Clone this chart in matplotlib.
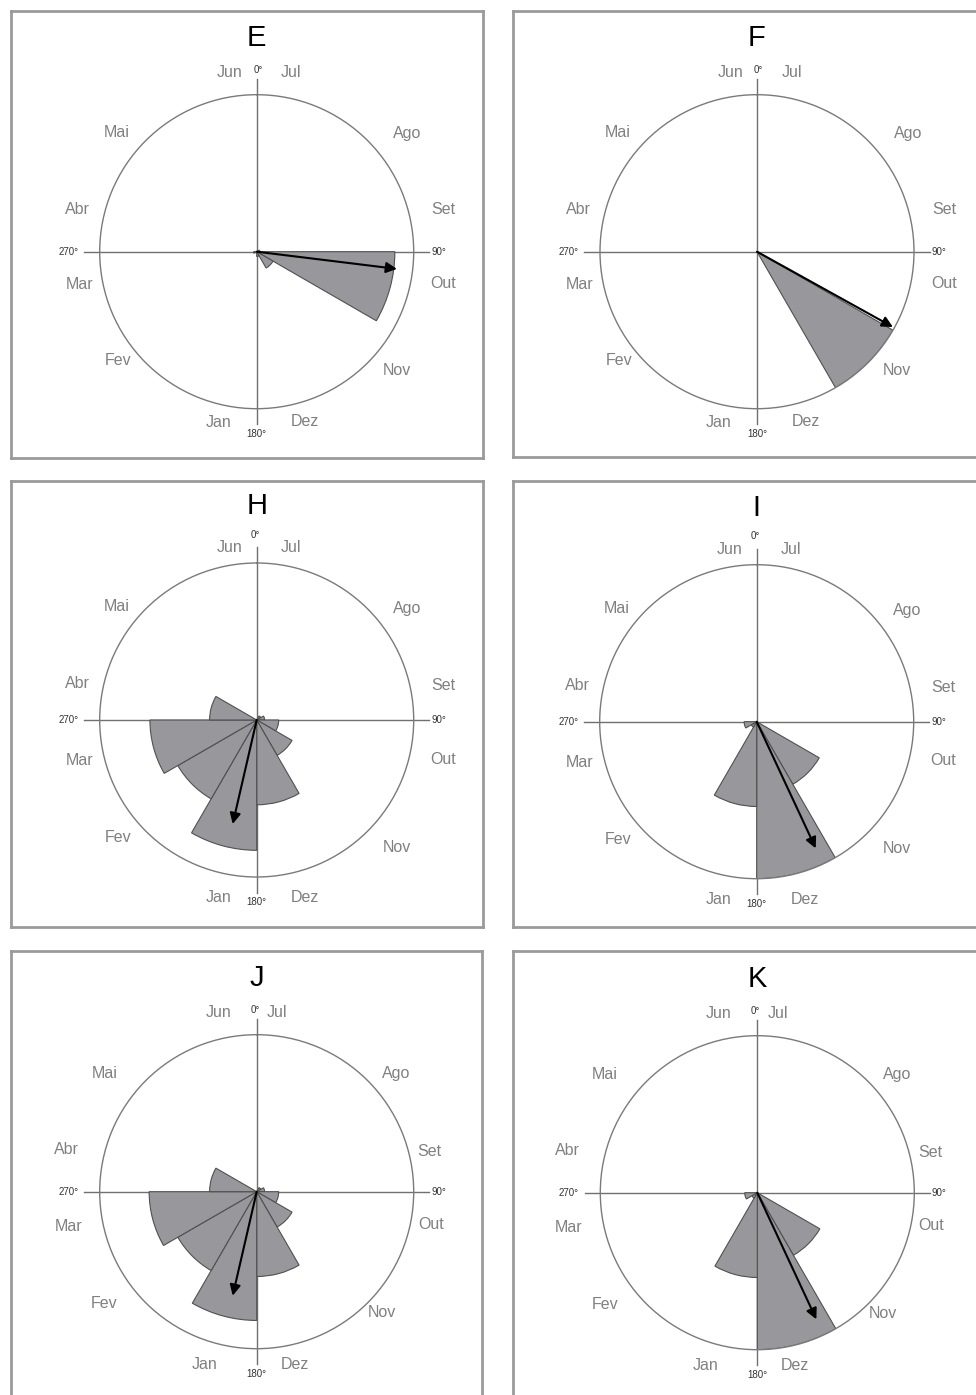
import numpy as np
import matplotlib.pyplot as plt

plt.rcParams['font.family'] = ['Liberation Sans', 'DejaVu Sans']

# Month bins, clockwise from 0° (Jul) in 30° steps
months = ['Jul', 'Ago', 'Set', 'Out', 'Nov', 'Dez', 'Jan', 'Fev', 'Mar', 'Abr', 'Mai', 'Jun']

# relative frequency per month (fraction of the circle radius)
freq_E = [0, 0, 0.02, 0.88, 0.12, 0.03, 0, 0, 0.02, 0, 0, 0]
freq_F = [0, 0, 0, 0, 1.0, 0, 0, 0, 0, 0, 0, 0]
freq_H = [0, 0.03, 0.05, 0.14, 0.26, 0.54, 0.83, 0.58, 0.68, 0.30, 0, 0]
freq_I = [0, 0, 0, 0, 0.46, 1.0, 0.54, 0.04, 0.08, 0, 0, 0]
freq_J = [0, 0.03, 0.05, 0.14, 0.26, 0.54, 0.82, 0.58, 0.685, 0.30, 0, 0]
freq_K = [0, 0, 0, 0, 0.46, 1.0, 0.54, 0.04, 0.08, 0, 0, 0]

# mean vector: direction (degrees clockwise from 0°) and length
mean_E = (97, 0.90)
mean_F = (119, 0.99)
mean_H = (193, 0.68)
mean_I = (155, 0.89)
mean_J = (193, 0.68)
mean_K = (155, 0.89)

degree_labels = ['0°', '90°', '180°', '270°']

W, H = 976, 1395
fig = plt.figure(figsize=(W / 100, H / 100), dpi=100, facecolor='white')

# label offsets (in circle radii) for the three rows of panels
lab_a = {'Jun': (-0.17, 1.14), 'Jul': (0.22, 1.14), 'Ago': (0.96, 0.755), 'Set': (1.19, 0.27),
         'Out': (1.19, -0.20), 'Nov': (0.89, -0.755), 'Dez': (0.31, -1.08), 'Jan': (-0.245, -1.085),
         'Fev': (-0.88, -0.69), 'Mar': (-1.13, -0.21), 'Abr': (-1.14, 0.27), 'Mai': (-0.89, 0.76),
         '0°': (0.01, 1.16), '90°': (1.16, 0), '180°': (0, -1.16), '270°': (-1.20, 0)}
lab_b = {'Jun': (-0.17, 1.10), 'Jul': (0.22, 1.10), 'Ago': (0.96, 0.71), 'Set': (1.19, 0.22),
         'Out': (1.19, -0.25), 'Nov': (0.89, -0.81), 'Dez': (0.31, -1.13), 'Jan': (-0.245, -1.13),
         'Fev': (-0.88, -0.75), 'Mar': (-1.13, -0.26), 'Abr': (-1.14, 0.23), 'Mai': (-0.89, 0.72),
         '0°': (-0.01, 1.18), '90°': (1.16, 0), '180°': (0, -1.16), '270°': (-1.20, 0)}
lab_c = {'Jun': (-0.245, 1.14), 'Jul': (0.13, 1.14), 'Ago': (0.89, 0.75), 'Set': (1.10, 0.255),
         'Out': (1.11, -0.21), 'Nov': (0.80, -0.77), 'Dez': (0.24, -1.10), 'Jan': (-0.33, -1.10),
         'Fev': (-0.97, -0.71), 'Mar': (-1.20, -0.22), 'Abr': (-1.21, 0.27), 'Mai': (-0.97, 0.755),
         '0°': (-0.01, 1.155), '90°': (1.16, 0), '180°': (0, -1.16), '270°': (-1.20, 0)}

# letter, data, mean, box (l, t, r, b px), centre (px), labels
panels = [
    ('E', freq_E, mean_E, (11, 11, 483, 458), (256.7, 251.7), lab_a),
    ('F', freq_F, mean_F, (513, 11, 995, 457), (757.0, 251.7), lab_a),
    ('H', freq_H, mean_H, (11, 481, 483, 927), (256.7, 720.0), lab_b),
    ('I', freq_I, mean_I, (513, 481, 995, 927), (756.7, 721.7), lab_b),
    ('J', freq_J, mean_J, (11, 951, 482, 1410), (256.7, 1191.7), lab_c),
    ('K', freq_K, mean_K, (513, 951, 995, 1410), (757.3, 1192.7), lab_c),
]

R = 157  # circle radius in pixels
theta = np.deg2rad(15 + 30 * np.arange(12))
width = np.deg2rad(30)

for letter, freq, mean, box, centre, labs in panels:
    l, t, r, b = box
    bax = fig.add_axes([l / W, 1 - b / H, (r - l) / W, (b - t) / H])
    bax.set_xticks([])
    bax.set_yticks([])
    for sp in bax.spines.values():
        sp.set_color('#9a9a9a')
        sp.set_linewidth(2)

    cx, cy = centre
    ax = fig.add_axes([(cx - R) / W, 1 - (cy + R) / H, 2 * R / W, 2 * R / H], projection='polar')
    ax.set_theta_zero_location('N')
    ax.set_theta_direction(-1)
    ax.set_ylim(0, 1)
    ax.grid(False)
    ax.set_xticks([])
    ax.set_yticks([])
    ax.spines['polar'].set_color('#7a7a7a')
    ax.spines['polar'].set_linewidth(1.0)

    for a in [0, 90, 180, 270]:
        ax.plot([np.deg2rad(a), np.deg2rad(a)], [0, 1.1], color='#707070', lw=1.0,
                clip_on=False, zorder=1)

    freq = np.array(freq)
    m = freq > 0
    ax.bar(theta[m], freq[m], width=width, bottom=0, color='#98989c',
           edgecolor='#505050', linewidth=0.8, zorder=2)

    ang, length = mean
    ax.annotate('', xy=(np.deg2rad(ang), length), xytext=(0, 0),
                arrowprops=dict(arrowstyle='-|>', color='black', lw=1.5,
                                mutation_scale=16, shrinkA=0, shrinkB=0), zorder=3)

    for mname in months:
        x, y = labs[mname]
        ax.text(0.5 + x / 2, 0.5 + y / 2, mname, transform=ax.transAxes,
                ha='center', va='center', fontsize=11.5, color='#808080')
    for d in degree_labels:
        x, y = labs[d]
        ax.text(0.5 + x / 2, 0.5 + y / 2, d, transform=ax.transAxes,
                ha='center', va='center', fontsize=7, color='#333333')

    ax.text(0.5, 1.18, letter, transform=ax.transAxes, ha='center', va='center',
            fontsize=21, color='black')

fig.savefig('out.png', dpi=100, facecolor='white')
